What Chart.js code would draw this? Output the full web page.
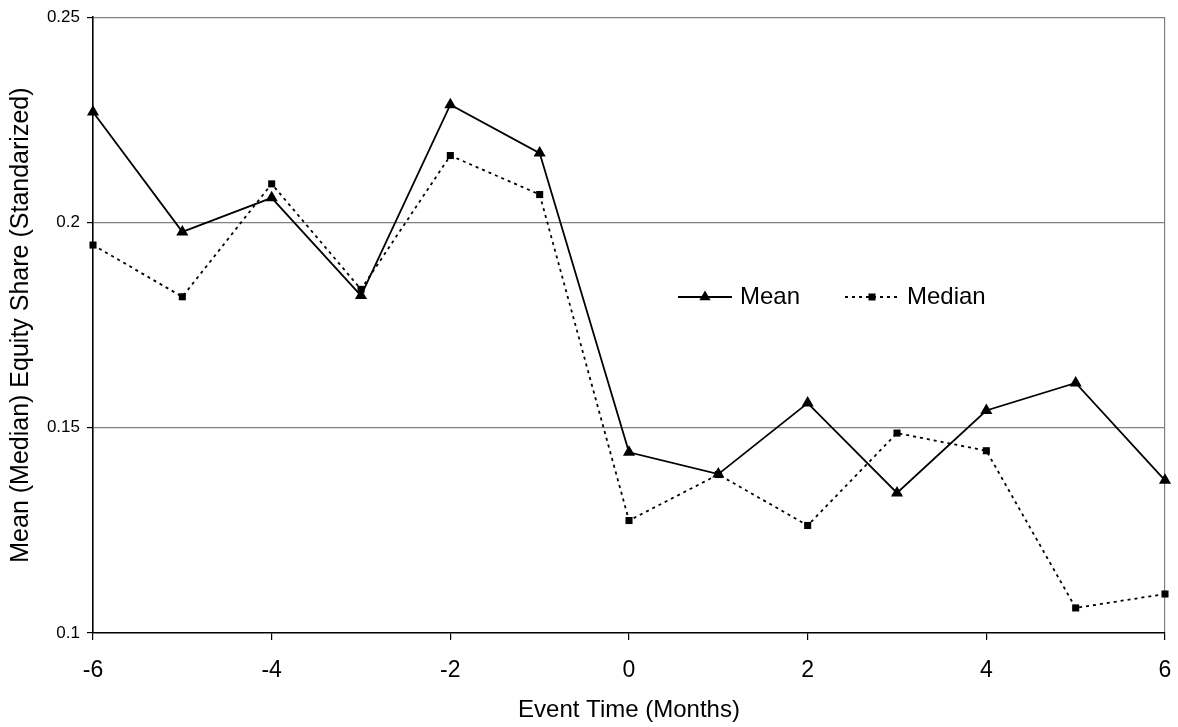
<!DOCTYPE html>
<html><head><meta charset="utf-8">
<script src="https://cdn.jsdelivr.net/npm/chart.js@4.4.1/dist/chart.umd.min.js"></script>
<style>html,body{margin:0;padding:0;background:#fff;} #wrap{width:1178px;height:727px;position:relative;}</style>
</head><body><div id="wrap"><canvas id="c"></canvas></div>
<script>
const months = [-6, -5, -4, -3, -2, -1, 0, 1, 2, 3, 4, 5, 6];
const meanValues = [0.2269, 0.1977, 0.2060, 0.1822, 0.2287, 0.2169, 0.1440, 0.1387, 0.1560, 0.1341, 0.1542, 0.1609, 0.1372];
const medianValues = [0.1945, 0.1819, 0.2094, 0.1837, 0.2163, 0.2068, 0.1274, 0.1386, 0.1262, 0.1487, 0.1444, 0.1061, 0.1095];
const xTickValues = [-6, -4, -2, 0, 2, 4, 6];
const yTickValues = [0.1, 0.15, 0.2, 0.25];
const yTickLabels = ['0.1', '0.15', '0.2', '0.25'];
const seriesNames = ['Mean', 'Median'];
const xTitle = 'Event Time (Months)';
const yTitle = 'Mean (Median) Equity Share (Standarized)';

const FONT = '"Liberation Sans", Arial, sans-serif';
Chart.defaults.font.family = FONT;
Chart.defaults.color = '#000';

const toPoints = vals => months.map((m, i) => ({x: m, y: vals[i]}));

const inlineLegend = {
  id: 'inlineLegend',
  afterDraw(chart) {
    const ctx = chart.ctx;
    const y = 297;
    ctx.save();
    ctx.strokeStyle = '#000';
    ctx.fillStyle = '#000';
    ctx.lineWidth = 1.8;
    // Mean sample
    ctx.beginPath(); ctx.moveTo(678, y); ctx.lineTo(732, y); ctx.stroke();
    const r = 6.5;
    ctx.beginPath();
    ctx.moveTo(705, y - r);
    ctx.lineTo(705 + r * Math.sin(2 * Math.PI / 3), y + r / 2);
    ctx.lineTo(705 - r * Math.sin(2 * Math.PI / 3), y + r / 2);
    ctx.closePath(); ctx.fill();
    // Median sample
    ctx.setLineDash([3, 4]);
    ctx.beginPath(); ctx.moveTo(845, y); ctx.lineTo(900, y); ctx.stroke();
    ctx.setLineDash([]);
    ctx.fillRect(872 - 3.5, y - 3.5, 7, 7);
    ctx.font = '24px ' + FONT;
    ctx.textBaseline = 'middle';
    ctx.textAlign = 'left';
    ctx.fillText(chart.data.datasets[0].label, 740, y);
    ctx.fillText(chart.data.datasets[1].label, 907, y);
    ctx.restore();
  }
};

new Chart(document.getElementById('c'), {
  type: 'line',
  data: {
    datasets: [
      {
        label: seriesNames[0],
        data: toPoints(meanValues),
        borderColor: '#000', backgroundColor: '#000',
        borderWidth: 1.8,
        pointStyle: 'triangle', pointRadius: 7, pointBorderWidth: 0,
        pointBackgroundColor: '#000',
        tension: 0, clip: false
      },
      {
        label: seriesNames[1],
        data: toPoints(medianValues),
        borderColor: '#000', backgroundColor: '#000',
        borderWidth: 1.8, borderDash: [3, 4],
        pointStyle: 'rect', pointRadius: 5, pointBorderWidth: 0,
        pointBackgroundColor: '#000',
        tension: 0, clip: false
      }
    ]
  },
  options: {
    responsive: true,
    maintainAspectRatio: false,
    devicePixelRatio: 1,
    animation: false,
    layout: {padding: {left: 0, right: 13, top: 16, bottom: 0}},
    plugins: {legend: {display: false}, tooltip: {enabled: false}},
    scales: {
      x: {
        type: 'linear', min: -6, max: 6,
        afterBuildTicks: s => { s.ticks = xTickValues.map(v => ({value: v})); },
        afterFit: s => { s.height = 94; s.paddingLeft = 0; s.paddingRight = 0; },
        ticks: {font: {size: 23}, padding: 17, color: '#000', maxRotation: 0},
        grid: {
          drawOnChartArea: true, drawTicks: true, tickLength: 7, tickColor: '#000', tickWidth: 1.2,
          color: c => (c.tick && c.tick.value === 6) ? '#808080' : 'rgba(0,0,0,0)',
          lineWidth: 1.2
        },
        border: {display: true, color: '#000', width: 1.6},
        title: {display: true, text: xTitle, font: {size: 24}, padding: {top: 0, bottom: 2}, color: '#000'}
      },
      y: {
        type: 'linear', min: 0.1, max: 0.25,
        afterBuildTicks: s => { s.ticks = yTickValues.map(v => ({value: v})); },
        afterFit: s => { s.width = 93; },
        ticks: {
          font: {size: 17}, padding: 7, color: '#000',
          callback: (v) => { const i = yTickValues.findIndex(t => Math.abs(t - v) < 1e-9); return i >= 0 ? yTickLabels[i] : ''; }
        },
        grid: {
          drawTicks: true, tickLength: 6, tickColor: '#000', tickWidth: 1.2,
          color: c => (c.tick && Math.abs(c.tick.value - 0.1) < 1e-9) ? 'rgba(0,0,0,0)' : '#808080',
          lineWidth: 1.2
        },
        border: {display: true, color: '#000', width: 1.6},
        title: {display: true, text: yTitle, font: {size: 25}, padding: {top: 6, bottom: 0}, color: '#000'}
      }
    }
  },
  plugins: [inlineLegend]
});
</script>
</body></html>
